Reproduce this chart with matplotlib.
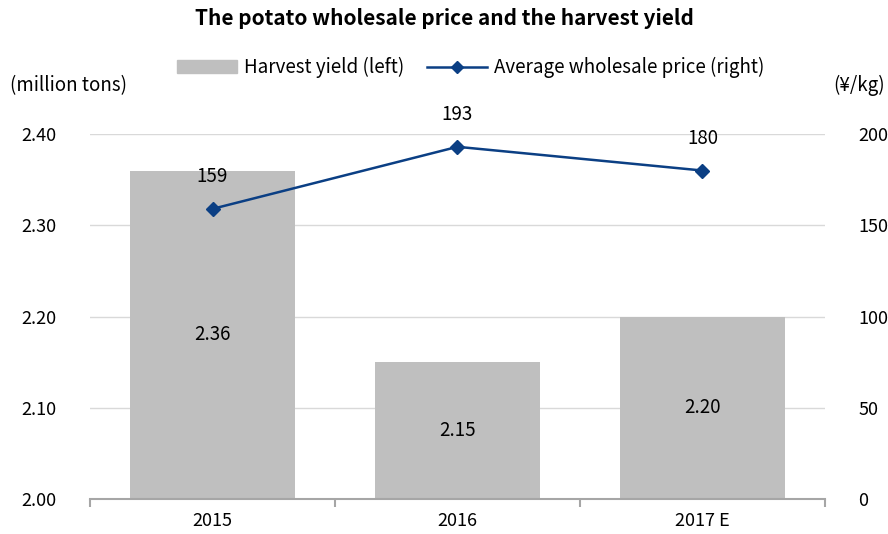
import matplotlib
matplotlib.use("Agg")
import matplotlib.pyplot as plt
from matplotlib.lines import Line2D
from matplotlib.patches import Patch

plt.rcParams['font.family'] = ['Noto Sans CJK JP', 'DejaVu Sans']

years = ["2015", "2016", "2017 E"]
harvest = [2.36, 2.15, 2.20]
price = [159, 193, 180]

bar_color = "#BFBFBF"
line_color = "#0B3F84"

fig = plt.figure(figsize=(8.88, 5.34), dpi=100)
ax = fig.add_axes([0.1014, 0.0655, 0.8276, 0.6835])
ax2 = ax.twinx()

x = list(range(len(years)))
ax.bar(x, [h - 2.0 for h in harvest], bottom=2.0, width=0.67, color=bar_color, zorder=2)
ax.set_ylim(2.0, 2.4)
ax.set_xlim(-0.5, 2.5)
ax.set_yticks([2.0, 2.1, 2.2, 2.3, 2.4])
ax.set_yticklabels(["%.2f" % v for v in [2.0, 2.1, 2.2, 2.3, 2.4]], fontsize=13)
ax.yaxis.grid(True, color="#D9D9D9", linewidth=1, zorder=0)
ax.set_axisbelow(True)
ax.tick_params(axis="y", length=0, pad=24)
ax.set_xticks(x)
ax.set_xticklabels(years, fontsize=13)
ax.tick_params(axis="x", length=0, pad=9)
ax.set_xticks([-0.5, 0.5, 1.5, 2.5], minor=True)
ax.tick_params(axis="x", which="minor", length=6, color="#A6A6A6", width=1.5)
for s in ["left", "right", "top"]:
    ax.spines[s].set_visible(False)
ax.spines["bottom"].set_color("#A6A6A6")
ax.spines["bottom"].set_linewidth(1.5)

for i, h in enumerate(harvest):
    ax.text(i, 2.0 + (h - 2.0) / 2, "%.2f" % h, ha="center", va="center", fontsize=13.5, zorder=5)

ax2.plot(x, price, color=line_color, marker="D", markersize=7, linewidth=1.8, zorder=4)
ax2.set_ylim(0, 200)
ax2.set_yticks([0, 50, 100, 150, 200])
ax2.set_yticklabels([str(v) for v in [0, 50, 100, 150, 200]], fontsize=13)
ax2.tick_params(axis="y", length=0, pad=24)
for s in ["left", "right", "top", "bottom"]:
    ax2.spines[s].set_visible(False)
for i, p in enumerate(price):
    ax2.annotate(str(p), (i, p), xytext=(0, 23), textcoords="offset points",
                 ha="center", va="center", fontsize=13.5)

fig.text(0.5, 0.965, "The potato wholesale price and the harvest yield",
         ha="center", va="center", fontsize=15, fontweight="bold")
fig.text(0.011, 0.84, "(million tons)", ha="left", va="center", fontsize=13.5)
fig.text(0.997, 0.84, "(¥/kg)", ha="right", va="center", fontsize=13.5)

handles = [Patch(color=bar_color),
           Line2D([0], [0], color=line_color, marker="D", markersize=6, linewidth=1.8)]
fig.legend(handles, ["Harvest yield (left)", "Average wholesale price (right)"],
           loc="center", bbox_to_anchor=(0.53, 0.873), ncol=2, frameon=False,
           fontsize=13.5, handlelength=3.2, columnspacing=1.2, handletextpad=0.4)

fig.savefig("out.png", dpi=100)
